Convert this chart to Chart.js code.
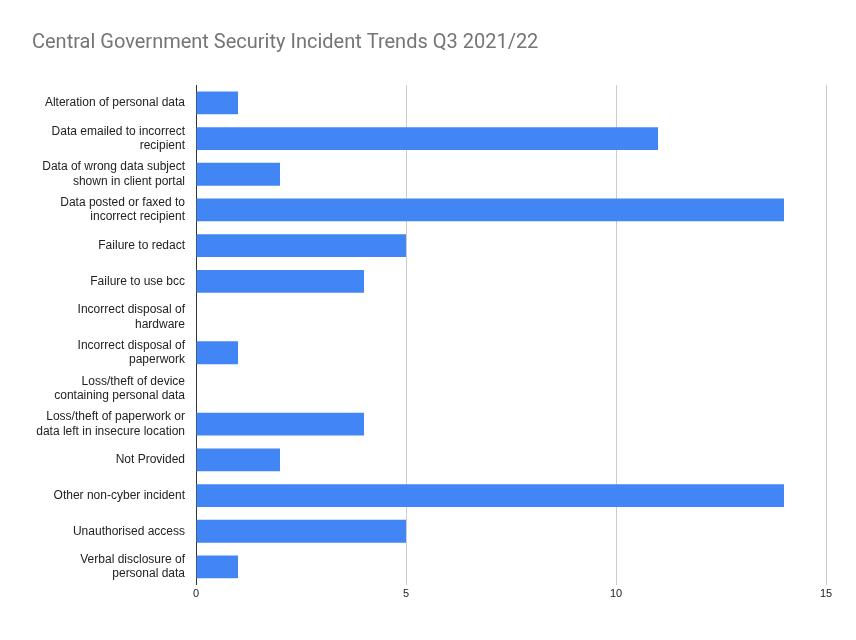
<!DOCTYPE html>
<html>
<head>
<meta charset="utf-8">
<script src="https://cdn.jsdelivr.net/npm/chart.js@4"></script>
<style>
  body { margin: 0; background: #fff; }
  #wrap { width: 856px; height: 640px; }
</style>
</head>
<body>
<div id="wrap"><canvas id="chart"></canvas></div>
<script>
var categories = [
  'Alteration of personal data',
  ['Data emailed to incorrect', 'recipient'],
  ['Data of wrong data subject', 'shown in client portal'],
  ['Data posted or faxed to', 'incorrect recipient'],
  'Failure to redact',
  'Failure to use bcc',
  ['Incorrect disposal of', 'hardware'],
  ['Incorrect disposal of', 'paperwork'],
  ['Loss/theft of device', 'containing personal data'],
  ['Loss/theft of paperwork or', 'data left in insecure location'],
  'Not Provided',
  'Other non-cyber incident',
  'Unauthorised access',
  ['Verbal disclosure of', 'personal data']
];
var incidents = [1, 11, 2, 14, 5, 4, 0, 1, 0, 4, 2, 14, 5, 1];

new Chart(document.getElementById('chart'), {
  type: 'bar',
  data: {
    labels: categories,
    datasets: [{
      data: incidents,
      backgroundColor: '#4285f4',
      categoryPercentage: 0.64,
      barPercentage: 1
    }]
  },
  options: {
    indexAxis: 'y',
    responsive: true,
    maintainAspectRatio: false,
    animation: false,
    layout: { padding: { left: 32, right: 30, top: 0, bottom: 36 } },
    plugins: {
      legend: { display: false },
      tooltip: { enabled: false },
      title: {
        display: true,
        text: 'Central Government Security Incident Trends Q3 2021/22',
        align: 'start',
        color: '#757575',
        font: { family: 'Roboto', size: 20, weight: 'normal' },
        padding: { top: 31, bottom: 30 }
      }
    },
    scales: {
      x: {
        min: 0, max: 15,
        ticks: { stepSize: 5, color: '#222', font: { family: 'Liberation Sans', size: 11 } },
        grid: { color: '#cccccc', drawTicks: false },
        border: { display: false }
      },
      y: {
        afterFit: function (scale) { scale.width = 164; },
        ticks: { color: '#222', font: { family: 'Liberation Sans', size: 12 }, padding: 3 },
        grid: { display: false },
        border: { color: '#333' }
      }
    }
  }
});
</script>
</body>
</html>
